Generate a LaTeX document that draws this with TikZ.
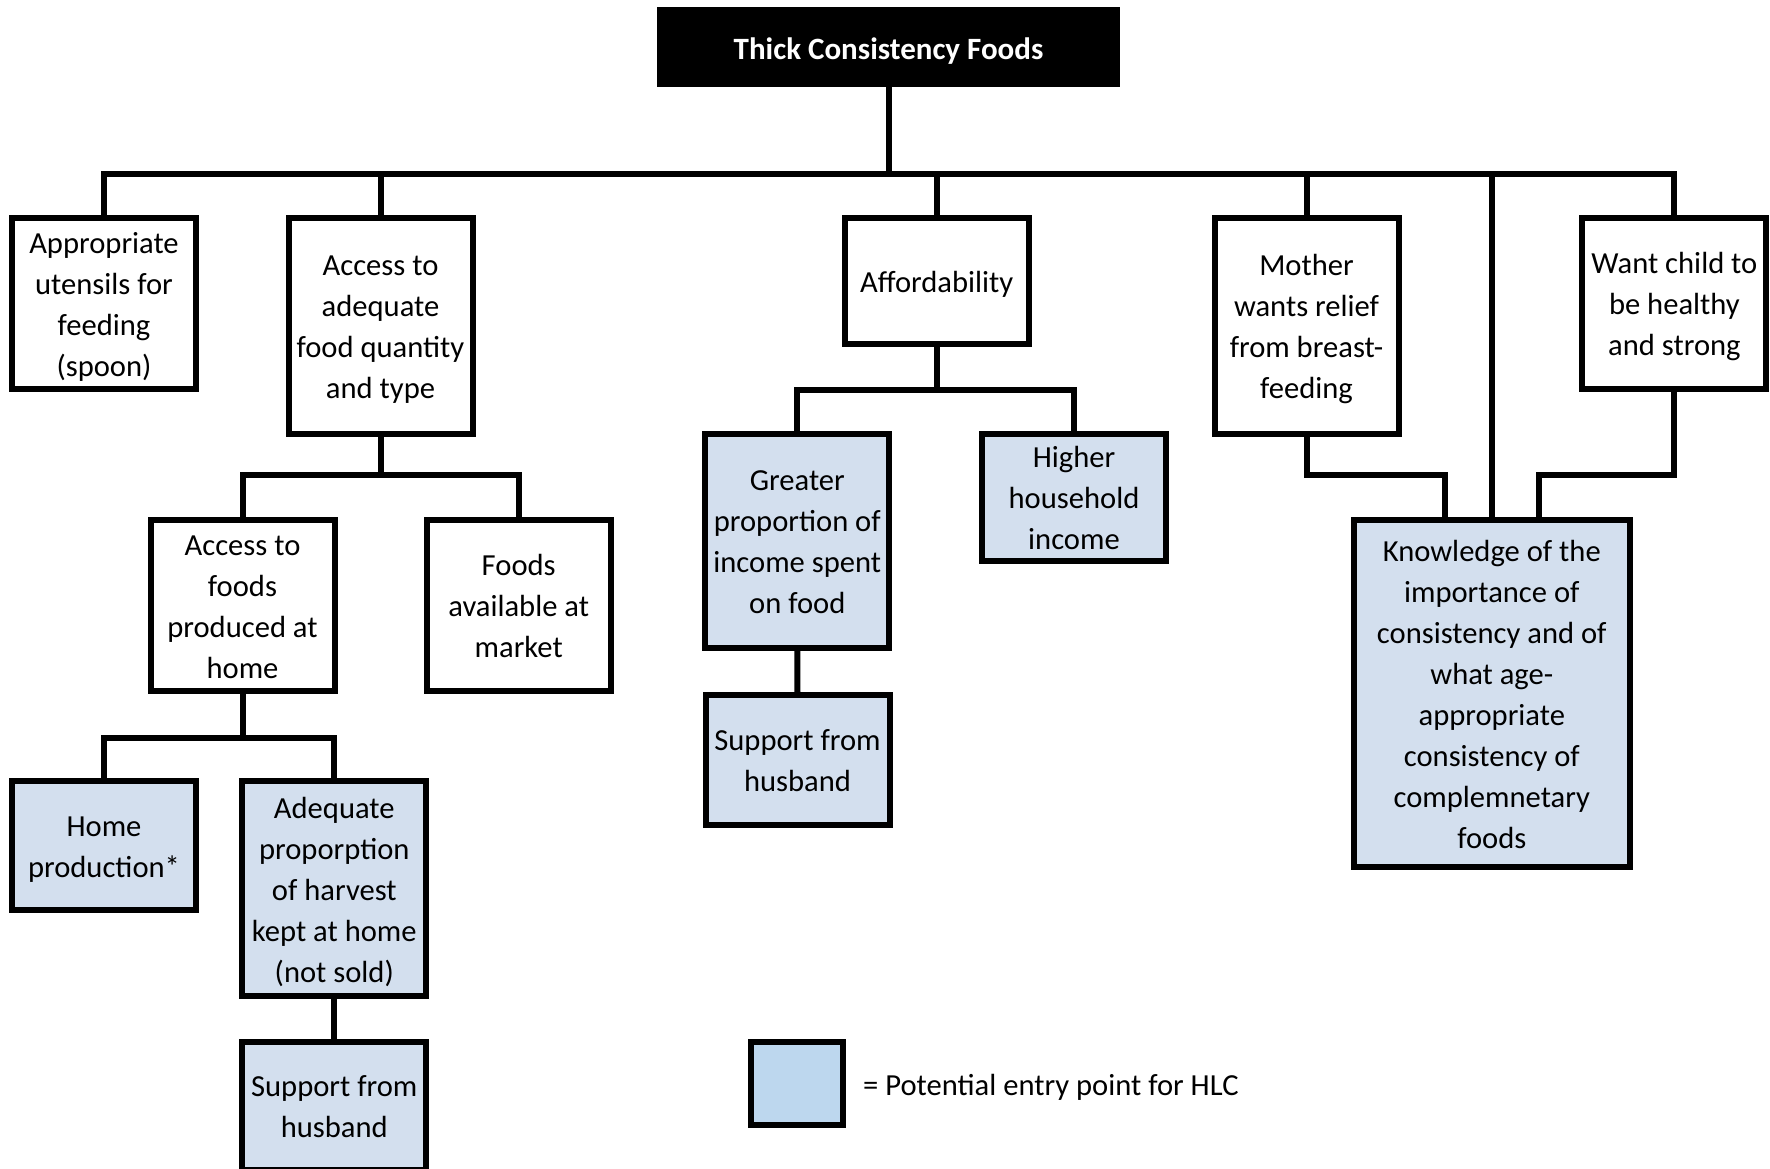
\documentclass[tikz,border=0pt]{standalone}
\usepackage{fontspec}
\setmainfont{Carlito}
\usetikzlibrary{calc}
\definecolor{hlcfill}{RGB}{211,223,238}
\definecolor{keyfill}{RGB}{189,215,238}
% fixed line struts so that every box centres its lines the same way
\newcommand\boxtopstrut{\rule{0pt}{15.95pt}}
\newcommand\boxbotstrut{\rule[-4.55pt]{0pt}{4.55pt}}

\begin{document}
\begin{tikzpicture}[x=0.5pt,y=-0.5pt,
  every node/.style={font=\fontsize{15.3pt}{20.5pt}\selectfont, align=flush center,
                     inner sep=0pt, outer sep=0pt},
  struts/.style={execute at begin node=\boxtopstrut, execute at end node=\boxbotstrut},
  box/.style={draw=black, line width=3pt, fill=white, minimum width=92pt,
              text width=92pt, struts},
  hlc/.style={box, fill=hlcfill},
  conn/.style={draw=black, line width=3pt}]

\useasboundingbox (0,0) rectangle (1770,1168);
\clip (0,0) rectangle (1770,1168);

% root
\node[fill=black, minimum width=231.5pt, minimum height=40pt, text=white,
      font=\bfseries\fontsize{15.5pt}{18pt}\selectfont,
      execute at begin node={\rule{0pt}{16.15pt}},
      execute at end node={\rule[-3.75pt]{0pt}{3.75pt}}] (title) at (888.5,47)
      {Thick Consistency Foods};

% first level
\node[box, minimum height=85.5pt] (utensils) at (104,303.3)
  {Appropriate\\utensils for\\feeding\\(spoon)};
\node[box, minimum height=108pt] (access) at (380.5,325.8)
  {Access to\\adequate\\food quantity\\and type};
\node[box, minimum height=63pt] (afford) at (936.7,280.8) {Affordability};
\node[box, minimum height=108pt] (mother) at (1306.5,325.8)
  {Mother\\wants relief\\from breast-\\feeding};
\node[box, minimum height=85.5pt] (healthy) at (1674.4,303.3)
  {Want child to\\be healthy\\and strong};

% second level
\node[box, minimum height=85.5pt] (homefoods) at (242.5,605.5)
  {Access to\\foods\\produced at\\home};
\node[box, minimum height=85.5pt] (market) at (518.7,605.5)
  {Foods\\available at\\market};
\node[hlc, minimum height=106.85pt] (greater) at (797.3,540.8)
  {Greater\\proportion of\\income spent\\on food};
\node[hlc, minimum height=63.5pt] (income) at (1074,497.5)
  {Higher\\household\\income};
\node[hlc, minimum width=138pt, text width=138pt, minimum height=173.5pt] (know) at (1491.8,693.4)
  {Knowledge of the\\importance of\\consistency and of\\what age-\\appropriate\\consistency of\\complemnetary\\foods};

% third level
\node[hlc, minimum height=64.5pt] (homeprod) at (104,845.8)
  {Home\\production*};
\node[hlc, minimum height=107.5pt] (harvest) at (334.3,888.8)
  {Adequate\\proporption\\of harvest\\kept at home\\(not sold)};
\node[hlc, minimum height=65pt] (husbandA) at (797.5,760)
  {Support from\\husband};
\node[hlc, minimum height=64pt] (husbandB) at (334.3,1106)
  {Support from\\husband};

% key
\node[draw=black, line width=3pt, fill=keyfill, minimum width=46pt, minimum height=41.5pt] (key) at (797.2,1083.8) {};
\node[anchor=west, struts] (keytext) at ($(key.east)+(20,0)$) {= Potential entry point for HLC};

% bus levels
\coordinate (bus) at (0,173.5);
\coordinate (kbus) at (0,474.7);
\coordinate (abus) at (0,475);
\coordinate (cbus) at (0,389.5);
\coordinate (fbus) at (0,737.8);

% connectors from the root
\draw[conn] (title.south) -- (title.south |- bus);
\draw[conn] (utensils.north) -- (utensils.north |- bus) -- (healthy.north |- bus) -- (healthy.north);
\draw[conn] (access.north) -- (access.north |- bus);
\draw[conn] (afford.north) -- (afford.north |- bus);
\draw[conn] (mother.north) -- (mother.north |- bus);
\draw[conn] (know.north) -- (know.north |- bus);

% knowledge leads
\draw[conn] (mother.south) -- (mother.south |- kbus) -| ($(know.north)+(-47,0)$);
\draw[conn] (healthy.south) -- (healthy.south |- kbus) -| ($(know.north)+(47,0)$);

% access branch
\draw[conn] (access.south) -- (access.south |- abus);
\draw[conn] (homefoods.north) -- (homefoods.north |- abus) -- (market.north |- abus) -- (market.north);
\draw[conn] (homefoods.south) -- (homefoods.south |- fbus);
\draw[conn] (homeprod.north) -- (homeprod.north |- fbus) -- (harvest.north |- fbus) -- (harvest.north);
\draw[conn] (harvest.south) -- (husbandB.north);

% affordability branch
\draw[conn] (afford.south) -- (afford.south |- cbus);
\draw[conn] (greater.north) -- (greater.north |- cbus) -- (income.north |- cbus) -- (income.north);
\draw[conn] (greater.south) -- (husbandA.north);

\end{tikzpicture}
\end{document}
